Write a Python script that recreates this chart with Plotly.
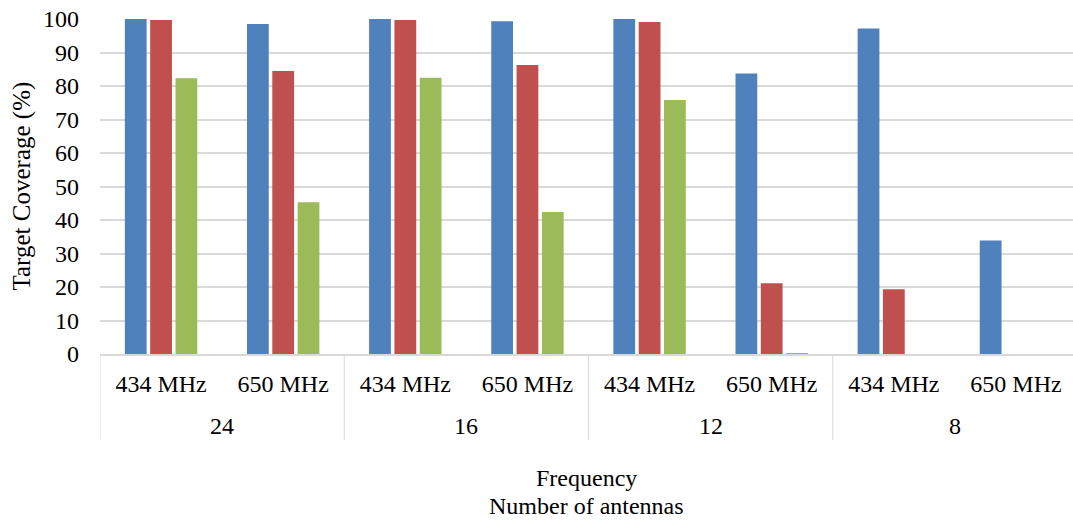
import plotly.graph_objects as go

# Outer and inner category levels
antennas = ["24", "24", "16", "16", "12", "12", "8", "8"]
frequency = ["434 MHz", "650 MHz"] * 4
antenna_groups = ["24", "16", "12", "8"]

# Target coverage (%) per configuration
series_1 = [100, 98.5, 100, 99.3, 100, 83.7, 97.2, 33.9]
series_2 = [99.7, 84.5, 99.7, 86.3, 99.1, 21.1, 19.3, 0]
series_3 = [82.3, 45.3, 82.5, 42.4, 75.8, 0.3, 0, 0]

colors = ["#4F81BD", "#C0504D", "#9BBB59"]
names = ["Series 1", "Series 2", "Series 3"]

FONT = "Liberation Serif"
FS = 24
GRID = "#D9D9D9"
PLOT_W = 973  # plot area width in px (1073 - left margin)

positions = list(range(len(frequency)))

fig = go.Figure()
for name, vals, col in zip(names, [series_1, series_2, series_3], colors):
    fig.add_trace(go.Bar(
        x=positions,
        y=vals,
        name=name,
        customdata=[[a, f] for a, f in zip(antennas, frequency)],
        hovertemplate="%{customdata[0]} / %{customdata[1]}: %{y}<extra>" + name + "</extra>",
        marker=dict(color=col, line=dict(width=0)),
    ))

# Outer level labels (number of antennas), centred under each pair
for i, g in enumerate(antenna_groups):
    fig.add_annotation(
        x=2 * i + 0.5, xref="x",
        y=-0.215, yref="paper",
        text=g, showarrow=False,
        yanchor="middle",
        font=dict(family=FONT, size=FS, color="black"),
    )

# Group dividers below the axis
for i in range(len(antenna_groups) + 1):
    fig.add_shape(
        type="line", xref="x", yref="paper",
        x0=2 * i - 0.5, x1=2 * i - 0.5, y0=0, y1=-0.257,
        line=dict(color=GRID, width=1),
    )

# Axis title, two lines
for text, ypx in [("Frequency", 478), ("Number of antennas", 506)]:
    fig.add_annotation(
        x=0.5, xref="paper",
        y=-(ypx - 354) / 335, yref="paper",
        text=text, showarrow=False,
        yanchor="middle",
        font=dict(family=FONT, size=FS, color="black"),
    )

# Vertical axis title
fig.add_annotation(
    x=-(100 - 21) / PLOT_W, xref="paper",
    y=0.5, yref="paper",
    text="Target Coverage (%)", showarrow=False,
    textangle=-90,
    xanchor="center", yanchor="middle",
    font=dict(family=FONT, size=25, color="black"),
)

fig.update_layout(
    width=1073,
    height=522,
    barmode="group",
    bargap=0.378,
    bargroupgap=0.14,
    showlegend=False,
    plot_bgcolor="white",
    paper_bgcolor="white",
    margin=dict(l=100, r=0, t=19, b=168),
    font=dict(family=FONT, size=FS, color="black"),
)

fig.update_yaxes(
    range=[0, 100],
    dtick=10,
    showgrid=True,
    gridcolor=GRID,
    gridwidth=2,
    zeroline=False,
    showline=False,
    ticks="",
    ticklabelstandoff=20,
    tickfont=dict(family=FONT, size=FS),
)

fig.update_xaxes(
    range=[-0.5, 7.467],
    tickmode="array",
    tickvals=positions,
    ticktext=frequency,
    showgrid=False,
    zeroline=False,
    showline=True,
    linecolor=GRID,
    linewidth=2,
    ticks="",
    ticklabelstandoff=7,
    tickfont=dict(family=FONT, size=FS),
)

fig.write_html("out.html")
